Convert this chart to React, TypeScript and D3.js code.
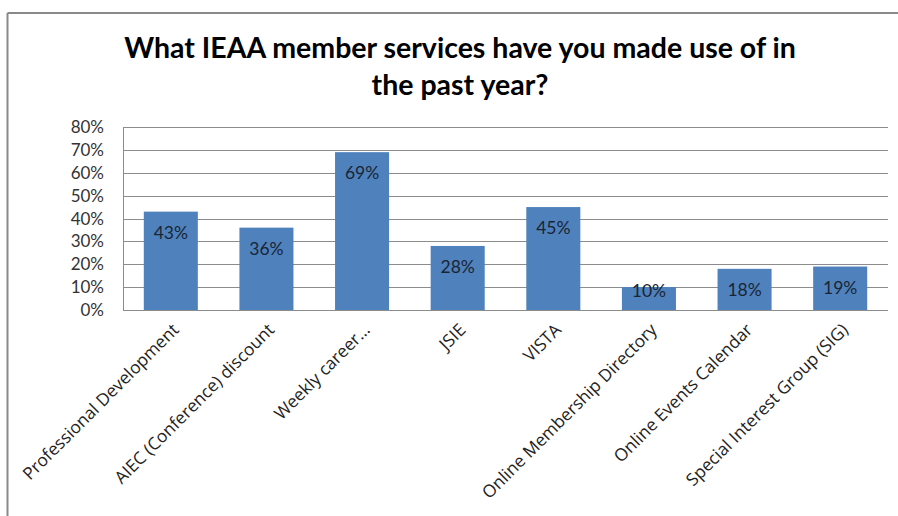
import React from "react";
import * as d3 from "d3";

const categories = [
  "Professional Development",
  "AIEC (Conference) discount",
  "Weekly career…",
  "JSIE",
  "VISTA",
  "Online Membership Directory",
  "Online Events Calendar",
  "Special Interest Group (SIG)",
];
const values = [0.43, 0.36, 0.69, 0.28, 0.45, 0.1, 0.18, 0.19];
const yTicks = [0, 0.1, 0.2, 0.3, 0.4, 0.5, 0.6, 0.7, 0.8];
const titleLines = ["What IEAA member services have you made use of in", "the past year?"];

const W = 898;
const H = 516;
const plot = { left: 123, right: 888, top: 127, bottom: 310 };

export default function App() {
  const x = d3
    .scaleBand<string>()
    .domain(categories)
    .range([plot.left, plot.right])
    .paddingInner(0.435)
    .paddingOuter(0.2175);
  const y = d3.scaleLinear().domain([0, 0.8]).range([plot.bottom, plot.top]);
  const fmt = d3.format(".0%");
  const labelFont = "Lato, 'Open Sans', sans-serif";

  return (
    <svg
      width={W}
      height={H}
      style={{ position: "absolute", left: 0, top: 0, background: "#fff" }}
    >
      <rect x={0} y={0} width={W} height={H} fill="#fff" />
      {/* chart border (left + top visible) */}
      <line x1={7.5} y1={13} x2={7.5} y2={H} stroke="#8a8a8a" strokeWidth={2} />
      <line x1={7.5} y1={13} x2={W} y2={13} stroke="#8a8a8a" strokeWidth={2} />

      {/* title */}
      {titleLines.map((t, i) => (
        <text
          key={i}
          x={460}
          y={58 + i * 37}
          textAnchor="middle"
          fontFamily={labelFont}
          fontWeight="bold"
          fontSize={28.5}
          fill="#000"
        >
          {t}
        </text>
      ))}

      {/* gridlines */}
      {yTicks.map((t) => (
        <line
          key={t}
          x1={plot.left}
          x2={plot.right}
          y1={Math.round(y(t)) + 0.5}
          y2={Math.round(y(t)) + 0.5}
          stroke="#8c8c8c"
          strokeWidth={1}
        />
      ))}
      <line
        x1={plot.left + 0.5}
        x2={plot.left + 0.5}
        y1={plot.top}
        y2={plot.bottom}
        stroke="#8c8c8c"
      />

      {/* y tick labels */}
      {yTicks.map((t) => (
        <text
          key={"l" + t}
          x={104}
          y={y(t) + 6}
          textAnchor="end"
          fontFamily={labelFont}
          fontSize={17}
          fill="#333"
        >
          {fmt(t)}
        </text>
      ))}

      {/* bars */}
      {categories.map((c, i) => (
        <rect
          key={c}
          x={x(c)}
          y={y(values[i])}
          width={x.bandwidth()}
          height={y(0) - y(values[i])}
          fill="#4f81bd"
        />
      ))}

      {/* data labels */}
      {categories.map((c, i) => (
        <text
          key={"d" + c}
          x={(x(c) as number) + x.bandwidth() / 2}
          y={Math.min(y(values[i]) + 27, plot.bottom - 13)}
          textAnchor="middle"
          fontFamily={labelFont}
          fontSize={17.5}
          fill="#1a2533"
        >
          {fmt(values[i])}
        </text>
      ))}

      {/* category labels */}
      {categories.map((c) => {
        const cx = (x(c) as number) + x.bandwidth() / 2 + 9;
        const cy = 331;
        return (
          <text
            key={"c" + c}
            x={cx}
            y={cy}
            transform={`rotate(-45 ${cx} ${cy})`}
            textAnchor="end"
            fontFamily="'Open Sans', sans-serif"
            fontSize={17.3}
            fill="#222"
          >
            {c}
          </text>
        );
      })}
    </svg>
  );
}
